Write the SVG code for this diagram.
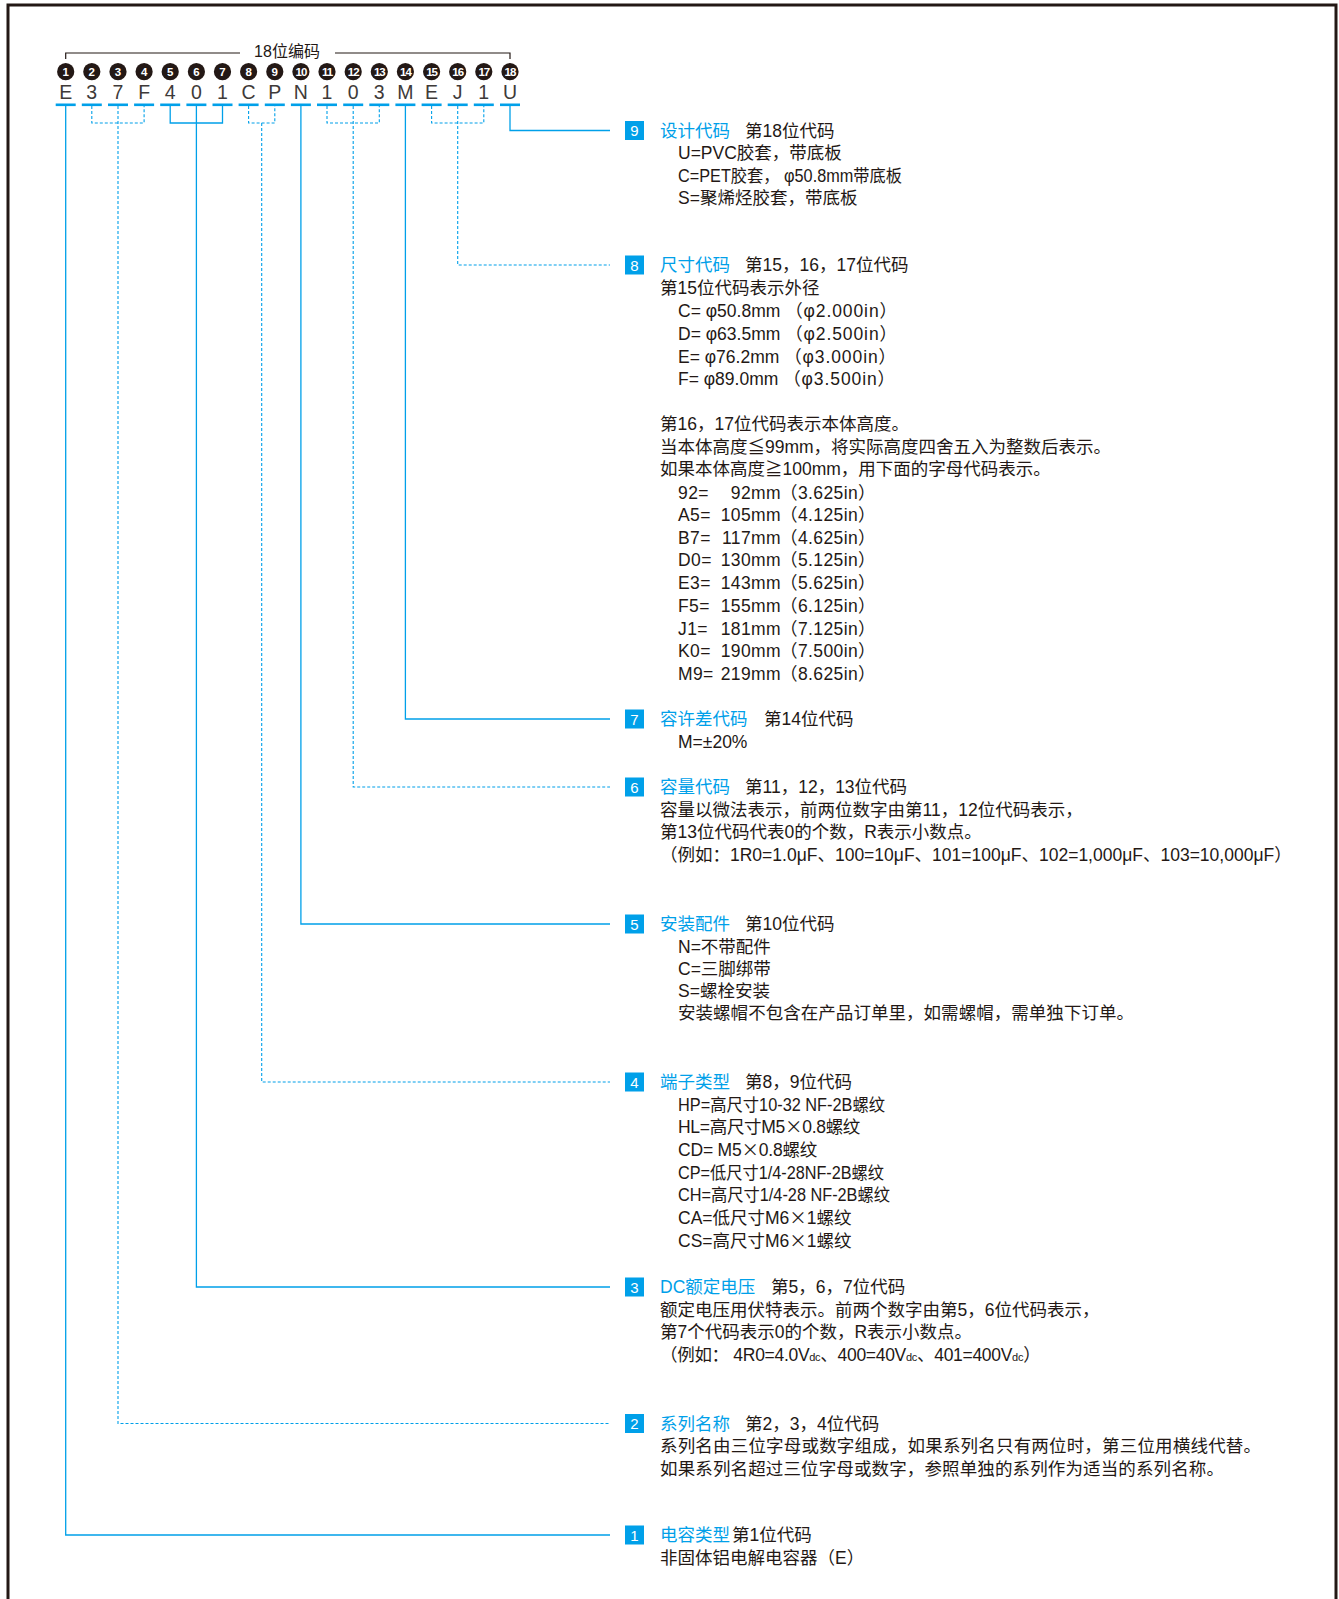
<svg xmlns="http://www.w3.org/2000/svg" width="1339" height="1599" viewBox="0 0 1339 1599">
<defs>
<style>
text{font-family:'Liberation Sans','Noto Sans CJK SC',sans-serif;fill:#231815;font-size:17.5px}
.t{fill:#00a0e9}
.bn{fill:#fff;font-size:15px;text-anchor:middle}
.cn{fill:#fff;font-size:11.5px;font-weight:bold;text-anchor:middle}
.lt{font-size:19.5px;text-anchor:middle;fill:#3e3a39}
.hd{font-size:16px;text-anchor:middle}
.cj{font-family:'Noto Sans CJK SC',sans-serif}
.sm{font-size:11px}
.s{fill:none;stroke:#00a0e9;stroke-width:1.3}
.d{fill:none;stroke:#00a0e9;stroke-width:1.1;stroke-dasharray:3 2}
.bd{fill:#00a0e9}
.ul{fill:#00a0e9}
</style>
</defs>
<rect x="8" y="5" width="1328" height="1700" fill="#fff" stroke="#231815" stroke-width="3"/>

<g id="header">
<path d="M65.7 59V53H240M335 53H510V59" fill="none" stroke="#231815" stroke-width="1.2"/>
<text class="hd" x="287" y="57">18位编码</text>
<g fill="#231815">
<circle cx="65.7" cy="71.7" r="8.6"/><circle cx="91.8" cy="71.7" r="8.6"/><circle cx="118" cy="71.7" r="8.6"/><circle cx="144.1" cy="71.7" r="8.6"/><circle cx="170.2" cy="71.7" r="8.6"/><circle cx="196.4" cy="71.7" r="8.6"/><circle cx="222.5" cy="71.7" r="8.6"/><circle cx="248.6" cy="71.7" r="8.6"/><circle cx="274.8" cy="71.7" r="8.6"/><circle cx="300.9" cy="71.7" r="8.6"/><circle cx="327" cy="71.7" r="8.6"/><circle cx="353.2" cy="71.7" r="8.6"/><circle cx="379.3" cy="71.7" r="8.6"/><circle cx="405.4" cy="71.7" r="8.6"/><circle cx="431.6" cy="71.7" r="8.6"/><circle cx="457.7" cy="71.7" r="8.6"/><circle cx="483.8" cy="71.7" r="8.6"/><circle cx="510" cy="71.7" r="8.6"/>
</g>
<g>
<text class="cn" x="65.7" y="75.8">1</text><text class="cn" x="91.8" y="75.8">2</text><text class="cn" x="118" y="75.8">3</text><text class="cn" x="144.1" y="75.8">4</text><text class="cn" x="170.2" y="75.8">5</text><text class="cn" x="196.4" y="75.8">6</text><text class="cn" x="222.5" y="75.8">7</text><text class="cn" x="248.6" y="75.8">8</text><text class="cn" x="274.8" y="75.8">9</text><text class="cn" x="300.9" y="75.8" letter-spacing="-1">10</text><text class="cn" x="327" y="75.8" letter-spacing="-1">11</text><text class="cn" x="353.2" y="75.8" letter-spacing="-1">12</text><text class="cn" x="379.3" y="75.8" letter-spacing="-1">13</text><text class="cn" x="405.4" y="75.8" letter-spacing="-1">14</text><text class="cn" x="431.6" y="75.8" letter-spacing="-1">15</text><text class="cn" x="457.7" y="75.8" letter-spacing="-1">16</text><text class="cn" x="483.8" y="75.8" letter-spacing="-1">17</text><text class="cn" x="510" y="75.8" letter-spacing="-1">18</text>
</g>
<g>
<text class="lt" x="65.7" y="99">E</text><text class="lt" x="91.8" y="99">3</text><text class="lt" x="118" y="99">7</text><text class="lt" x="144.1" y="99">F</text><text class="lt" x="170.2" y="99">4</text><text class="lt" x="196.4" y="99">0</text><text class="lt" x="222.5" y="99">1</text><text class="lt" x="248.6" y="99">C</text><text class="lt" x="274.8" y="99">P</text><text class="lt" x="300.9" y="99">N</text><text class="lt" x="327" y="99">1</text><text class="lt" x="353.2" y="99">0</text><text class="lt" x="379.3" y="99">3</text><text class="lt" x="405.4" y="99">M</text><text class="lt" x="431.6" y="99">E</text><text class="lt" x="457.7" y="99">J</text><text class="lt" x="483.8" y="99">1</text><text class="lt" x="510" y="99">U</text>
</g>
<g>
<rect class="ul" x="55.7" y="103.5" width="20" height="2.6"/><rect class="ul" x="81.8" y="103.5" width="20" height="2.6"/><rect class="ul" x="108" y="103.5" width="20" height="2.6"/><rect class="ul" x="134.1" y="103.5" width="20" height="2.6"/><rect class="ul" x="160.2" y="103.5" width="20" height="2.6"/><rect class="ul" x="186.4" y="103.5" width="20" height="2.6"/><rect class="ul" x="212.5" y="103.5" width="20" height="2.6"/><rect class="ul" x="238.6" y="103.5" width="20" height="2.6"/><rect class="ul" x="264.8" y="103.5" width="20" height="2.6"/><rect class="ul" x="290.9" y="103.5" width="20" height="2.6"/><rect class="ul" x="317" y="103.5" width="20" height="2.6"/><rect class="ul" x="343.2" y="103.5" width="20" height="2.6"/><rect class="ul" x="369.3" y="103.5" width="20" height="2.6"/><rect class="ul" x="395.4" y="103.5" width="20" height="2.6"/><rect class="ul" x="421.6" y="103.5" width="20" height="2.6"/><rect class="ul" x="447.7" y="103.5" width="20" height="2.6"/><rect class="ul" x="473.8" y="103.5" width="20" height="2.6"/><rect class="ul" x="500" y="103.5" width="20" height="2.6"/>
</g>
</g>

<g id="connectors">
<path class="s" d="M510 106V130.5H610"/>
<path class="d" d="M431.6 106V123H483.8V106M457.7 106V265H610"/>
<path class="s" d="M405.4 106V719H610"/>
<path class="d" d="M327 106V123H379.3V106M353.2 106V787H610"/>
<path class="s" d="M300.9 106V924H610"/>
<path class="d" d="M248.6 106V123H274.8V106M261.7 123V1082H610"/>
<path class="s" d="M170.2 106V123H222.5V106M196.4 106V1287H610"/>
<path class="d" d="M91.8 106V123H144.1V106M118 106V1423.5H610"/>
<path class="s" d="M65.7 106V1535H610"/>
</g>

<g id="sec9">
<rect class="bd" x="625" y="121" width="19" height="19"/><text class="bn" x="634.5" y="136">9</text>
<text class="t" x="660" y="136.5">设计代码</text><text x="745" y="136.5">第18位代码</text>
<text x="678" y="159">U=PVC胶套，带底板</text>
<text x="678" y="181.5" textLength="224" lengthAdjust="spacingAndGlyphs">C=PET胶套， φ50.8mm带底板</text>
<text x="678" y="204">S=聚烯烃胶套，带底板</text>
</g>

<g id="sec8">
<rect class="bd" x="625" y="255.5" width="19" height="19"/><text class="bn" x="634.5" y="270.5">8</text>
<text class="t" x="660" y="271">尺寸代码</text><text x="745" y="271">第15，16，17位代码</text>
<text x="660" y="294">第15位代码表示外径</text>
<text x="678" y="317">C= φ50.8mm <tspan letter-spacing="0.9">（φ2.000in）</tspan></text>
<text x="678" y="339.5">D= φ63.5mm <tspan letter-spacing="0.9">（φ2.500in）</tspan></text>
<text x="678" y="362.5">E= φ76.2mm <tspan letter-spacing="0.9">（φ3.000in）</tspan></text>
<text x="678" y="385">F= φ89.0mm <tspan letter-spacing="0.9">（φ3.500in）</tspan></text>
<text x="660" y="430">第16，17位代码表示本体高度。</text>
<text x="660" y="452.5">当本体高度≦99mm，将实际高度四舍五入为整数后表示。</text>
<text x="660" y="475">如果本体高度≧100mm，用下面的字母代码表示。</text>
<g letter-spacing="0.4">
<text x="678" y="498.5">92=</text><text x="781" y="498.5" text-anchor="end">92mm</text><text x="780" y="498.5">（3.625in）</text>
<text x="678" y="521">A5=</text><text x="781" y="521" text-anchor="end">105mm</text><text x="780" y="521">（4.125in）</text>
<text x="678" y="543.5">B7=</text><text x="781" y="543.5" text-anchor="end">117mm</text><text x="780" y="543.5">（4.625in）</text>
<text x="678" y="566">D0=</text><text x="781" y="566" text-anchor="end">130mm</text><text x="780" y="566">（5.125in）</text>
<text x="678" y="589">E3=</text><text x="781" y="589" text-anchor="end">143mm</text><text x="780" y="589">（5.625in）</text>
<text x="678" y="611.5">F5=</text><text x="781" y="611.5" text-anchor="end">155mm</text><text x="780" y="611.5">（6.125in）</text>
<text x="678" y="634.5">J1=</text><text x="781" y="634.5" text-anchor="end">181mm</text><text x="780" y="634.5">（7.125in）</text>
<text x="678" y="657">K0=</text><text x="781" y="657" text-anchor="end">190mm</text><text x="780" y="657">（7.500in）</text>
<text x="678" y="680">M9=</text><text x="781" y="680" text-anchor="end">219mm</text><text x="780" y="680">（8.625in）</text>
</g>
</g>

<g id="sec7">
<rect class="bd" x="625" y="709.5" width="19" height="19"/><text class="bn" x="634.5" y="724.5">7</text>
<text class="t" x="660" y="725">容许差代码</text><text x="764" y="725">第14位代码</text>
<text x="678" y="747.5">M=±20%</text>
</g>

<g id="sec6">
<rect class="bd" x="625" y="777.5" width="19" height="19"/><text class="bn" x="634.5" y="792.5">6</text>
<text class="t" x="660" y="793">容量代码</text><text x="745" y="793">第11，12，13位代码</text>
<text x="660" y="815.5">容量以微法表示，前两位数字由第11，12位代码表示，</text>
<text x="660" y="838">第13位代码代表0的个数，R表示小数点。</text>
<text x="660" y="860.5">（例如：1R0=1.0μF、100=10μF、101=100μF、102=1,000μF、103=10,000μF）</text>
</g>

<g id="sec5">
<rect class="bd" x="625" y="914.5" width="19" height="19"/><text class="bn" x="634.5" y="929.5">5</text>
<text class="t" x="660" y="930">安装配件</text><text x="745" y="930">第10位代码</text>
<text x="678" y="952.5">N=不带配件</text>
<text x="678" y="975">C=三脚绑带</text>
<text x="678" y="997">S=螺栓安装</text>
<text x="678" y="1019" textLength="456" lengthAdjust="spacing">安装螺帽不包含在产品订单里，如需螺帽，需单独下订单。</text>
</g>

<g id="sec4">
<rect class="bd" x="625" y="1072.5" width="19" height="19"/><text class="bn" x="634.5" y="1087.5">4</text>
<text class="t" x="660" y="1088">端子类型</text><text x="745" y="1088">第8，9位代码</text>
<text x="678" y="1110.5" textLength="207" lengthAdjust="spacingAndGlyphs">HP=高尺寸10-32 NF-2B螺纹</text>
<text x="678" y="1133" letter-spacing="-0.3">HL=高尺寸M5<tspan class="cj">×</tspan>0.8螺纹</text>
<text x="678" y="1156" letter-spacing="-0.2">CD= M5<tspan class="cj">×</tspan>0.8螺纹</text>
<text x="678" y="1178.5" textLength="206" lengthAdjust="spacingAndGlyphs">CP=低尺寸1/4-28NF-2B螺纹</text>
<text x="678" y="1201" textLength="212" lengthAdjust="spacingAndGlyphs">CH=高尺寸1/4-28 NF-2B螺纹</text>
<text x="678" y="1224">CA=低尺寸M6<tspan class="cj">×</tspan>1螺纹</text>
<text x="678" y="1246.5">CS=高尺寸M6<tspan class="cj">×</tspan>1螺纹</text>
</g>

<g id="sec3">
<rect class="bd" x="625" y="1277.5" width="19" height="19"/><text class="bn" x="634.5" y="1292.5">3</text>
<text class="t" x="660" y="1293">DC额定电压</text><text x="771" y="1293">第5，6，7位代码</text>
<text x="660" y="1315.5">额定电压用伏特表示。前两个数字由第5，6位代码表示，</text>
<text x="660" y="1338">第7个代码表示0的个数，R表示小数点。</text>
<text x="660" y="1360.5" letter-spacing="-0.3">（例如： 4R0=4.0V<tspan class="sm">dc</tspan>、400=40V<tspan class="sm">dc</tspan>、401=400V<tspan class="sm">dc</tspan>）</text>
</g>

<g id="sec2">
<rect class="bd" x="625" y="1414" width="19" height="19"/><text class="bn" x="634.5" y="1429">2</text>
<text class="t" x="660" y="1429.5">系列名称</text><text x="745" y="1429.5">第2，3，4位代码</text>
<text x="660" y="1452" textLength="601" lengthAdjust="spacing">系列名由三位字母或数字组成，如果系列名只有两位时，第三位用横线代替。</text>
<text x="660" y="1474.5" textLength="564" lengthAdjust="spacing">如果系列名超过三位字母或数字，参照单独的系列作为适当的系列名称。</text>
</g>

<g id="sec1">
<rect class="bd" x="625" y="1525.5" width="19" height="19"/><text class="bn" x="634.5" y="1540.5">1</text>
<text class="t" x="660" y="1541">电容类型</text><text x="732" y="1541">第1位代码</text>
<text x="660" y="1564">非固体铝电解电容器（E）</text>
</g>
</svg>
